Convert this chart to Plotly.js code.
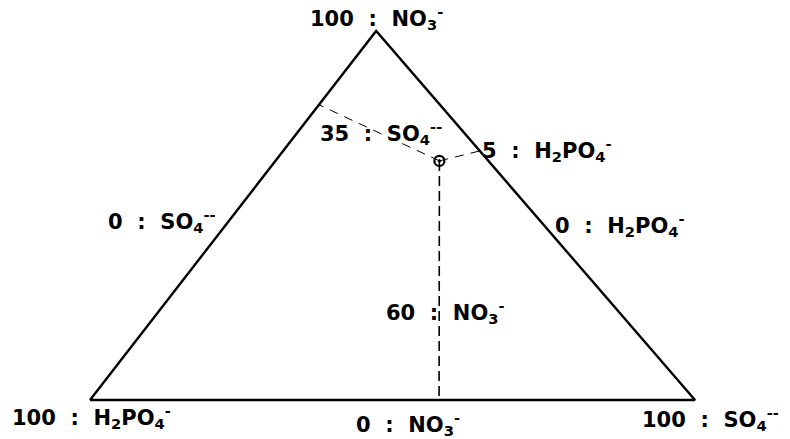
<!DOCTYPE html>
<html>
<head>
<meta charset="utf-8">
<script src="https://cdn.plot.ly/plotly-3.0.1.min.js"></script>
<style>
  html, body { margin: 0; padding: 0; background: #fff; }
  #chart { width: 790px; height: 439px; }
</style>
</head>
<body>
<div id="chart"></div>
<script>
// Ternary composition in % : NO3- (apex), SO4-- (bottom right), H2PO4- (bottom left)
var frameNO3   = [0, 0, 100, 0];
var frameSO4   = [0, 100, 0, 0];
var frameH2PO4 = [100, 0, 0, 100];

// the sample point
var sampleNO3   = [64.8];
var sampleSO4   = [27.1];
var sampleH2PO4 = [8.1];

// where the guide lines from the sample meet the sides
var guideNO3   = [80.0, 67.5, 0];
var guideSO4   = [0, 32.5, 57.7];
var guideH2PO4 = [20.0, 0, 42.3];

// label texts
var labels = [
  '100\u00a0\u00a0:\u00a0\u00a0NO<sub>3</sub><sup>-</sup>',
  '35\u00a0\u00a0:\u00a0\u00a0SO<sub>4</sub><sup>--</sup>',
  '5\u00a0\u00a0:\u00a0\u00a0H<sub>2</sub>PO<sub>4</sub><sup>-</sup>',
  '0\u00a0\u00a0:\u00a0\u00a0SO<sub>4</sub><sup>--</sup>',
  '0\u00a0\u00a0:\u00a0\u00a0H<sub>2</sub>PO<sub>4</sub><sup>-</sup>',
  '60\u00a0\u00a0:\u00a0\u00a0NO<sub>3</sub><sup>-</sup>',
  '100\u00a0\u00a0:\u00a0\u00a0H<sub>2</sub>PO<sub>4</sub><sup>-</sup>',
  '0\u00a0\u00a0:\u00a0\u00a0NO<sub>3</sub><sup>-</sup>',
  '100\u00a0\u00a0:\u00a0\u00a0SO<sub>4</sub><sup>--</sup>'
];
// label placement (pixels -> paper fraction, left edge / vertical middle)
var labelX = [308, 318, 480, 106, 553, 384, 10, 354, 640].map(function(v) { return v / 790; });
var labelY = [18, 133, 150, 221, 225, 312, 417, 424, 419].map(function(v) { return 1 - v / 439; });

// the apex is not centred over the base in this drawing
var apexX = 47.3;

function px(no3, so4) { return so4 + apexX * no3 / 100; }

var frame = {
  x: frameNO3.map(function(v, i) { return px(v, frameSO4[i]); }),
  y: frameNO3,
  mode: 'lines',
  line: { color: '#000', width: 2.4 },
  hoverinfo: 'skip'
};

var sx = px(sampleNO3[0], sampleSO4[0]);
var sy = sampleNO3[0];

var guideLeft = {
  x: [sx, px(guideNO3[0], guideSO4[0])],
  y: [sy, guideNO3[0]],
  mode: 'lines',
  line: { color: '#000', width: 1, dash: '9px,7px' }
};
var guideRight = {
  x: [sx, px(guideNO3[1], guideSO4[1])],
  y: [sy, guideNO3[1]],
  mode: 'lines',
  line: { color: '#000', width: 1, dash: '9px,7px' }
};
var guideBase = {
  x: [sx, px(guideNO3[2], guideSO4[2])],
  y: [sy, guideNO3[2]],
  mode: 'lines',
  line: { color: '#000', width: 1.6, dash: '10px,5px' }
};

var sample = {
  x: sampleNO3.map(function(v, i) { return px(v, sampleSO4[i]); }),
  y: sampleNO3,
  mode: 'markers',
  marker: { symbol: 'circle-open-dot', size: 10, color: '#000', line: { width: 2.2, color: '#000' } }
};

var annotations = labels.map(function(t, i) {
  return {
    text: t, xref: 'paper', yref: 'paper',
    x: labelX[i], y: labelY[i],
    xanchor: 'left', yanchor: 'middle',
    showarrow: false,
    font: { family: 'DejaVu Sans', size: 21, color: '#000', weight: 'bold' }
  };
});

var layout = {
  width: 790, height: 439,
  margin: { l: 0, r: 0, t: 0, b: 0 },
  paper_bgcolor: '#fff', plot_bgcolor: '#fff',
  showlegend: false,
  xaxis: { range: [-14.876, 115.70], visible: false, fixedrange: true },
  yaxis: { range: [-10.57, 108.40], visible: false, fixedrange: true },
  annotations: annotations
};

Plotly.newPlot('chart', [frame, guideLeft, guideRight, guideBase, sample], layout, { staticPlot: true });
</script>
</body>
</html>
